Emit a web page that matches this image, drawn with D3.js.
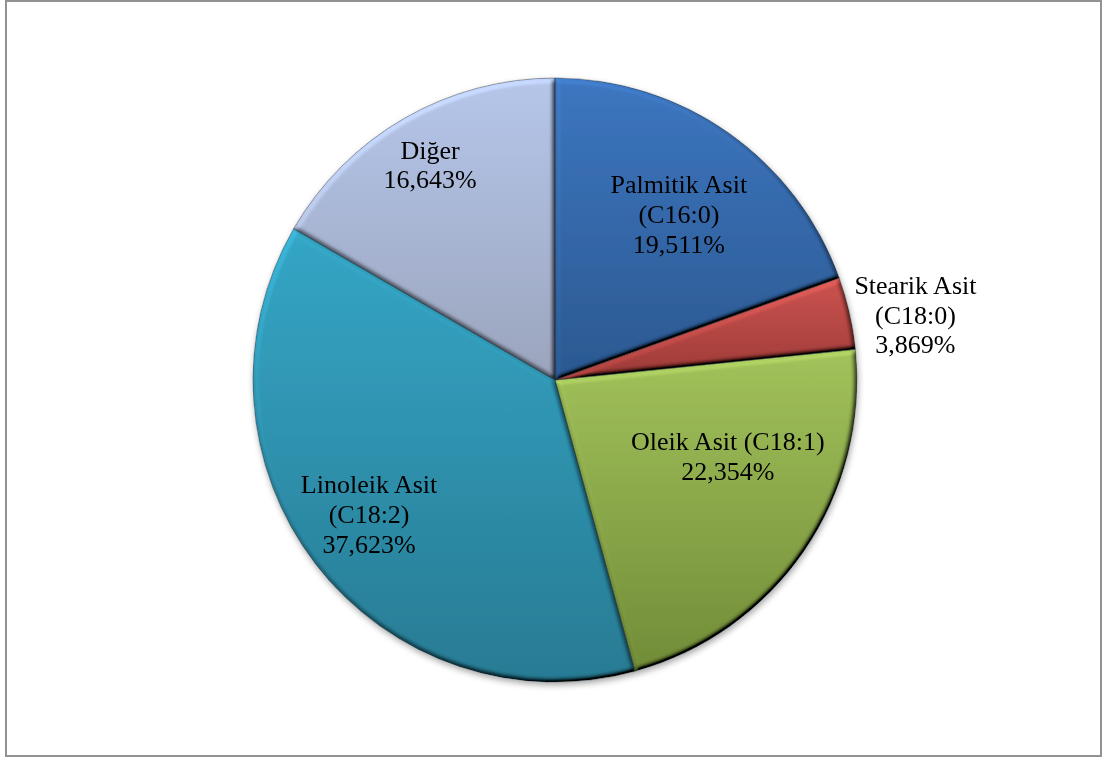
<!DOCTYPE html>
<html>
<head>
<meta charset="utf-8">
<script src="https://cdn.jsdelivr.net/npm/d3@7"></script>
<style>
  html, body { margin: 0; padding: 0; background: #fff; }
  svg { display: block; }
  text { font-family: "Liberation Serif", "Times New Roman", serif; }
</style>
</head>
<body>
<svg id="chart" width="1103" height="758"></svg>
<script>
// Fatty acid composition (%)
const names = ["Palmitik Asit", "Stearik Asit", "Oleik Asit", "Linoleik Asit", "Diğer"];
const values = [19.511, 3.869, 22.354, 37.623, 16.643];
const labelLines = [
  ["Palmitik Asit", "(C16:0)", "19,511%"],
  ["Stearik Asit", "(C18:0)", "3,869%"],
  ["Oleik Asit (C18:1)", "22,354%"],
  ["Linoleik Asit", "(C18:2)", "37,623%"],
  ["Diğer", "16,643%"]
];
// top / bottom colours of each slice's vertical gradient
const colorsTop = ["#3d76c0", "#cc534f", "#a2c25b", "#34a6c6", "#b5c6ea"];
const colorsBottom = ["#2b5890", "#9c3a37", "#718c37", "#287b93", "#9ba4bc"];
// label placement: radius factor and angular nudge (degrees)
const labelRadius = [0.686, 1.213, 0.625, 0.759, 0.825];
const labelShift = [1.6, 2.5, -10.7, 1.85, -0.15];

const svg = d3.select("#chart");
const cx = 555, cy = 380, R = 302;
const fontSize = 26, lineH = 29.8;

// outer frame
svg.append("rect")
  .attr("x", 6).attr("y", 1).attr("width", 1095).attr("height", 755)
  .attr("fill", "#fff").attr("stroke", "#929292").attr("stroke-width", 2);

const defs = svg.append("defs");

values.forEach((v, i) => {
  const g = defs.append("linearGradient")
    .attr("id", "grad" + i)
    .attr("x1", 0).attr("y1", 0).attr("x2", 0).attr("y2", 1);
  g.append("stop").attr("offset", "0%").attr("stop-color", colorsTop[i]);
  g.append("stop").attr("offset", "100%").attr("stop-color", colorsBottom[i]);
});

// soft bevel on each slice
const bevel = defs.append("filter").attr("id", "bevel")
  .attr("x", "-5%").attr("y", "-5%").attr("width", "110%").attr("height", "110%");
bevel.append("feGaussianBlur").attr("in", "SourceAlpha").attr("stdDeviation", 2.6).attr("result", "bump");
const light = bevel.append("feDiffuseLighting").attr("in", "bump")
  .attr("surfaceScale", 5).attr("diffuseConstant", 1).attr("lighting-color", "#fff").attr("result", "lit");
light.append("feDistantLight").attr("azimuth", 235).attr("elevation", 50);
bevel.append("feComposite").attr("in", "SourceGraphic").attr("in2", "lit")
  .attr("operator", "arithmetic").attr("k1", 1.31).attr("k2", 0).attr("k3", 0).attr("k4", 0)
  .attr("result", "shaded");
bevel.append("feComposite").attr("in", "shaded").attr("in2", "SourceAlpha").attr("operator", "in");

// drop shadow under the whole pie
const shadow = defs.append("filter").attr("id", "shadow")
  .attr("x", "-10%").attr("y", "-10%").attr("width", "120%").attr("height", "120%");
shadow.append("feDropShadow").attr("dx", 1).attr("dy", 3).attr("stdDeviation", 3)
  .attr("flood-color", "#000").attr("flood-opacity", 0.35);

const pie = d3.pie().sort(null).value(d => d)(values);
const arc = d3.arc().innerRadius(0).outerRadius(R);

const pieG = svg.append("g")
  .attr("transform", `translate(${cx},${cy})`)
  .attr("filter", "url(#shadow)");

pieG.selectAll("path.slice")
  .data(pie)
  .join("path")
  .attr("class", "slice")
  .attr("d", arc)
  .attr("fill", (d, i) => `url(#grad${i})`)
  .attr("filter", "url(#bevel)");

// thin dark seams between slices and around the rim
pieG.selectAll("path.edge")
  .data(pie)
  .join("path")
  .attr("class", "edge")
  .attr("d", arc)
  .attr("fill", "none")
  .attr("stroke", "rgba(20,30,40,0.45)")
  .attr("stroke-width", 0.8);

// labels
const labelG = svg.append("g").attr("transform", `translate(${cx},${cy})`);
pie.forEach((d, i) => {
  const a = (d.startAngle + d.endAngle) / 2 + labelShift[i] * Math.PI / 180;
  const r = labelRadius[i] * R;
  const x = r * Math.sin(a);
  const y = -r * Math.cos(a);
  const lines = labelLines[i];
  const t = labelG.append("text")
    .attr("text-anchor", "middle")
    .attr("font-size", fontSize)
    .attr("fill", "#000");
  lines.forEach((s, j) => {
    t.append("tspan")
      .attr("x", x)
      .attr("y", y + (j - (lines.length - 1) / 2) * lineH + 0.35 * fontSize)
      .text(s);
  });
});
</script>
</body>
</html>
